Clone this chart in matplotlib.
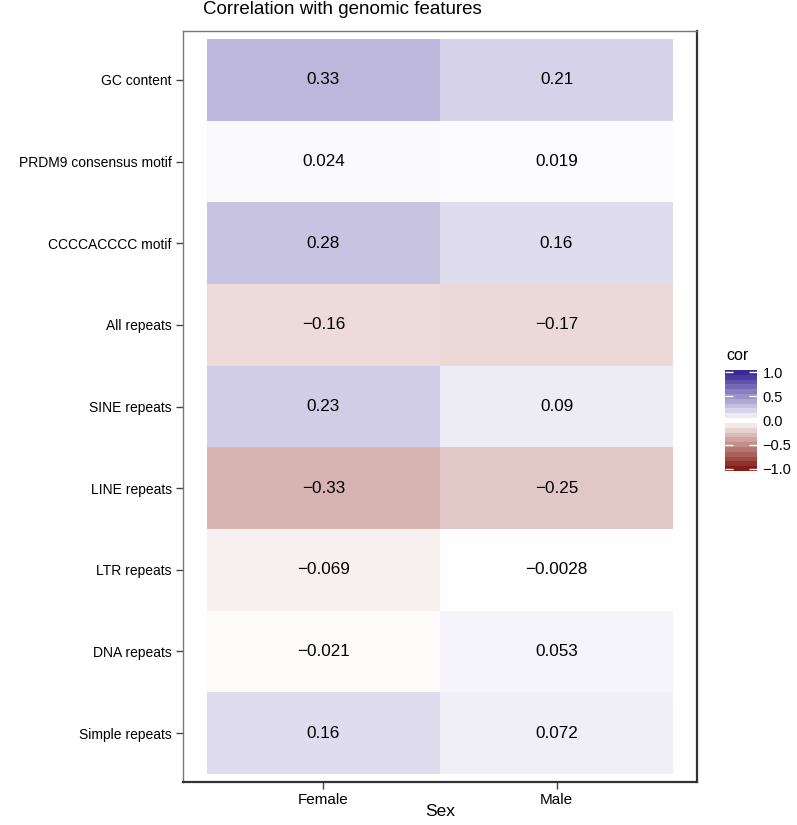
import numpy as np
import matplotlib
matplotlib.use("Agg")
import matplotlib.pyplot as plt
from matplotlib.colors import LinearSegmentedColormap, Normalize

plt.rcParams['font.family'] = ['Liberation Sans', 'DejaVu Sans']

features = ["GC content", "PRDM9 consensus motif", "CCCCACCCC motif", "All repeats",
            "SINE repeats", "LINE repeats", "LTR repeats", "DNA repeats", "Simple repeats"]
sexes = ["Female", "Male"]
female = [0.33, 0.024, 0.28, -0.16, 0.23, -0.33, -0.069, -0.021, 0.16]
male = [0.21, 0.019, 0.16, -0.17, 0.09, -0.25, -0.0028, 0.053, 0.072]
female_lbl = ["0.33", "0.024", "0.28", "-0.16", "0.23", "-0.33", "-0.069", "-0.021", "0.16"]
male_lbl = ["0.21", "0.019", "0.16", "-0.17", "0.09", "-0.25", "-0.0028", "0.053", "0.072"]

cmap = LinearSegmentedColormap.from_list("cor", ["#861c16", "#ffffff", "#3a2895"])
norm = Normalize(-1, 1)

fig = plt.figure(figsize=(7.97, 8.25), dpi=100)
ax = fig.add_axes([183/797, 1-782/825, 514/797, 751/825])

vals = np.array([female, male]).T
nrow = len(features)
ax.pcolormesh(np.arange(0.5, 3, 1), np.arange(0.5, nrow + 1, 1), vals, cmap=cmap, norm=norm)
labels = [female_lbl, male_lbl]
for j in range(2):
    for i in range(nrow):
        ax.text(j + 1, i + 1, labels[j][i].replace("-", "\u2212"), ha="center", va="center",
                fontsize=12.3, color="black")

ax.set_xlim(0.397, 2.603)
ax.set_ylim(nrow + 0.6, 0.4)
ax.set_xticks([1, 2])
ax.set_xticklabels(sexes, fontsize=11)
ax.set_yticks(np.arange(1, nrow + 1))
ax.set_yticklabels(features, fontsize=10)
ax.tick_params(length=5, color="#444444", width=1, pad=3)
for s in ["left", "top"]:
    ax.spines[s].set_color("#777777")
    ax.spines[s].set_linewidth(1)
for s in ["right", "bottom"]:
    ax.spines[s].set_color("#333333")
    ax.spines[s].set_linewidth(1.6)
fig.text(440/797, 1-812/825, "Sex", fontsize=12.5, ha="center", va="center")

fig.text(203/797, 1-10/825, "Correlation with genomic features", fontsize=13.5, ha="left", va="center")

# legend colorbar
cax = fig.add_axes([725/797, 1-471/825, 32/797, 101/825])
edges = np.linspace(-1.05, 1.05, 22)
centers = (edges[:-1] + edges[1:]) / 2
cax.pcolormesh([0, 1], edges, centers.reshape(-1, 1), cmap=cmap, norm=norm)
cax.set_xlim(0, 1)
cax.set_ylim(-1.05, 1.05)
cax.set_xticks([])
cax.set_yticks([-1, -0.5, 0, 0.5, 1])
cax.set_yticklabels(["\u22121.0", "\u22120.5", "0.0", "0.5", "1.0"], fontsize=10.5)
cax.yaxis.tick_right()
cax.tick_params(axis="y", direction="in", color="white", length=6, width=1, left=True, right=True, pad=4)
for s in cax.spines.values():
    s.set_visible(False)
fig.text(726/797, 1-355/825, "cor", fontsize=11.5, ha="left", va="center")

fig.savefig("out.png", dpi=100)
